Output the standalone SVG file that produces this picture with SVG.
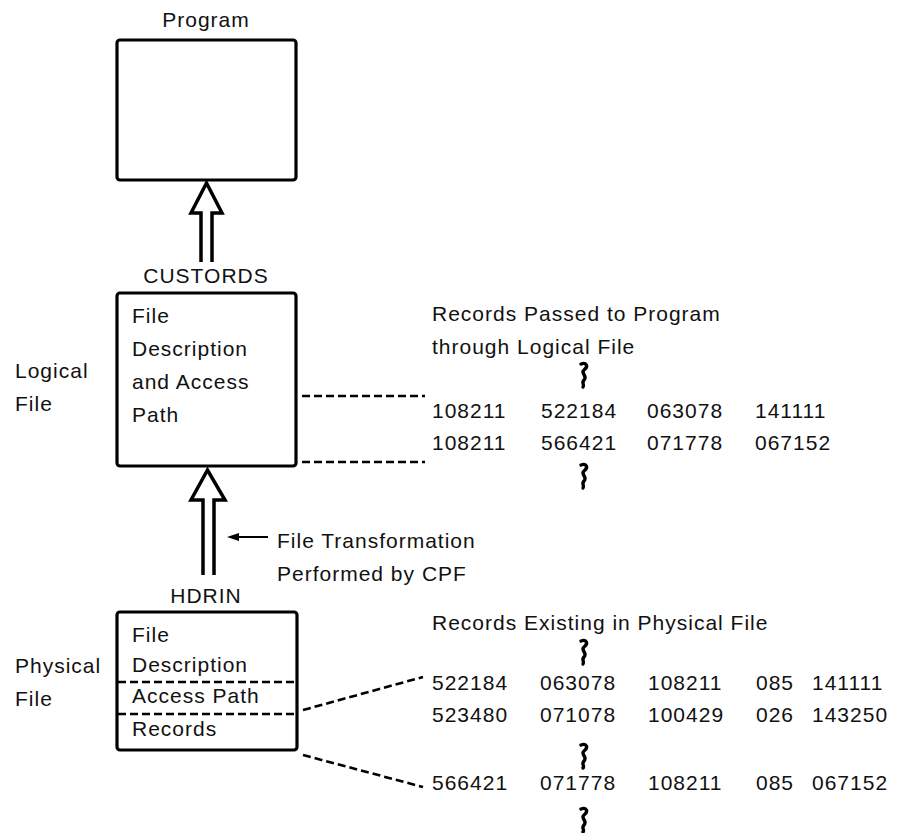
<svg xmlns="http://www.w3.org/2000/svg" width="920" height="833" viewBox="0 0 920 833">
<defs>
<style>
text{font-family:"Liberation Sans",Arial,sans-serif;font-size:21px;letter-spacing:1px;fill:#111}
.box{fill:none;stroke:#000;stroke-width:3.2}
.big{fill:none;stroke:#000;stroke-width:3.5;stroke-linejoin:miter}
.dash{fill:none;stroke:#000;stroke-width:2.6;stroke-dasharray:8 4}
.sq{fill:none;stroke:#000;stroke-width:3.4;stroke-linecap:round}
.thin{fill:none;stroke:#000;stroke-width:2}
</style>
<path id="sq" d="M -3 1 C 2 -1, 5 3, 0 7 C -4 10, 4 13, 0 17 C -3 20, 1 22, -1 24"/>
<marker id="ah" markerWidth="12" markerHeight="8" refX="1" refY="4" orient="auto" markerUnits="userSpaceOnUse">
<path d="M12 0 L0 4 L12 8 Z" fill="#000" transform="rotate(180 6 4)"/>
</marker>
</defs>

<g id="program">
<text x="206" y="27" text-anchor="middle">Program</text>
<rect class="box" x="117" y="40" width="179" height="140" rx="3"/>
</g>

<g id="logical">
<text x="206" y="283" text-anchor="middle">CUSTORDS</text>
<rect class="box" x="117" y="293" width="179" height="173" rx="3"/>
<text x="132" y="323">File</text>
<text x="132" y="356">Description</text>
<text x="132" y="389">and Access</text>
<text x="132" y="422">Path</text>
<text x="15" y="378">Logical</text>
<text x="15" y="411">File</text>
</g>

<g id="physical">
<text x="206" y="603" text-anchor="middle">HDRIN</text>
<rect class="box" x="117" y="612" width="180" height="138" rx="3"/>
<text x="132" y="642">File</text>
<text x="132" y="672">Description</text>
<text x="132" y="703">Access Path</text>
<text x="132" y="736">Records</text>
<line class="dash" x1="118" y1="682" x2="296" y2="682"/>
<line class="dash" x1="118" y1="714" x2="296" y2="714"/>
<text x="15" y="673">Physical</text>
<text x="15" y="706">File</text>
</g>

<g id="logical-records">
<text x="432" y="321">Records Passed to Program</text>
<text x="432" y="354">through Logical File</text>
<text x="432" y="418">108211</text><text x="541" y="418">522184</text><text x="647" y="418">063078</text><text x="755" y="418">141111</text>
<text x="432" y="450">108211</text><text x="541" y="450">566421</text><text x="647" y="450">071778</text><text x="755" y="450">067152</text>
<use href="#sq" class="sq" x="584" y="363"/>
<use href="#sq" class="sq" x="584" y="464"/>
</g>

<g id="physical-records">
<text x="432" y="630">Records Existing in Physical File</text>
<text x="432" y="690">522184</text><text x="540" y="690">063078</text><text x="648" y="690">108211</text><text x="756" y="690">085</text><text x="812" y="690">141111</text>
<text x="432" y="722">523480</text><text x="540" y="722">071078</text><text x="648" y="722">100429</text><text x="756" y="722">026</text><text x="812" y="722">143250</text>
<text x="432" y="790">566421</text><text x="540" y="790">071778</text><text x="648" y="790">108211</text><text x="756" y="790">085</text><text x="812" y="790">067152</text>
<use href="#sq" class="sq" x="584" y="640"/>
<use href="#sq" class="sq" x="584" y="744"/>
<use href="#sq" class="sq" x="584" y="808"/>
</g>

<g id="transform-label">
<text x="277" y="548">File Transformation</text>
<text x="277" y="581">Performed by CPF</text>
</g>

<g id="connectors">
<path class="big" d="M 201 262 V 213 H 191 L 206.5 183 L 222 213 H 212 V 262"/>
<path class="big" d="M 203 575 V 500 H 191 L 207.5 470 L 225 500 H 214 V 575"/>
<line class="thin" x1="268" y1="537" x2="238" y2="537" marker-end="url(#ah)"/>
<line class="dash" x1="302" y1="396" x2="425" y2="396"/>
<line class="dash" x1="302" y1="462" x2="425" y2="462"/>
<line class="dash" x1="303" y1="710" x2="423" y2="677"/>
<line class="dash" x1="303" y1="755" x2="423" y2="787"/>
</g>
</svg>
